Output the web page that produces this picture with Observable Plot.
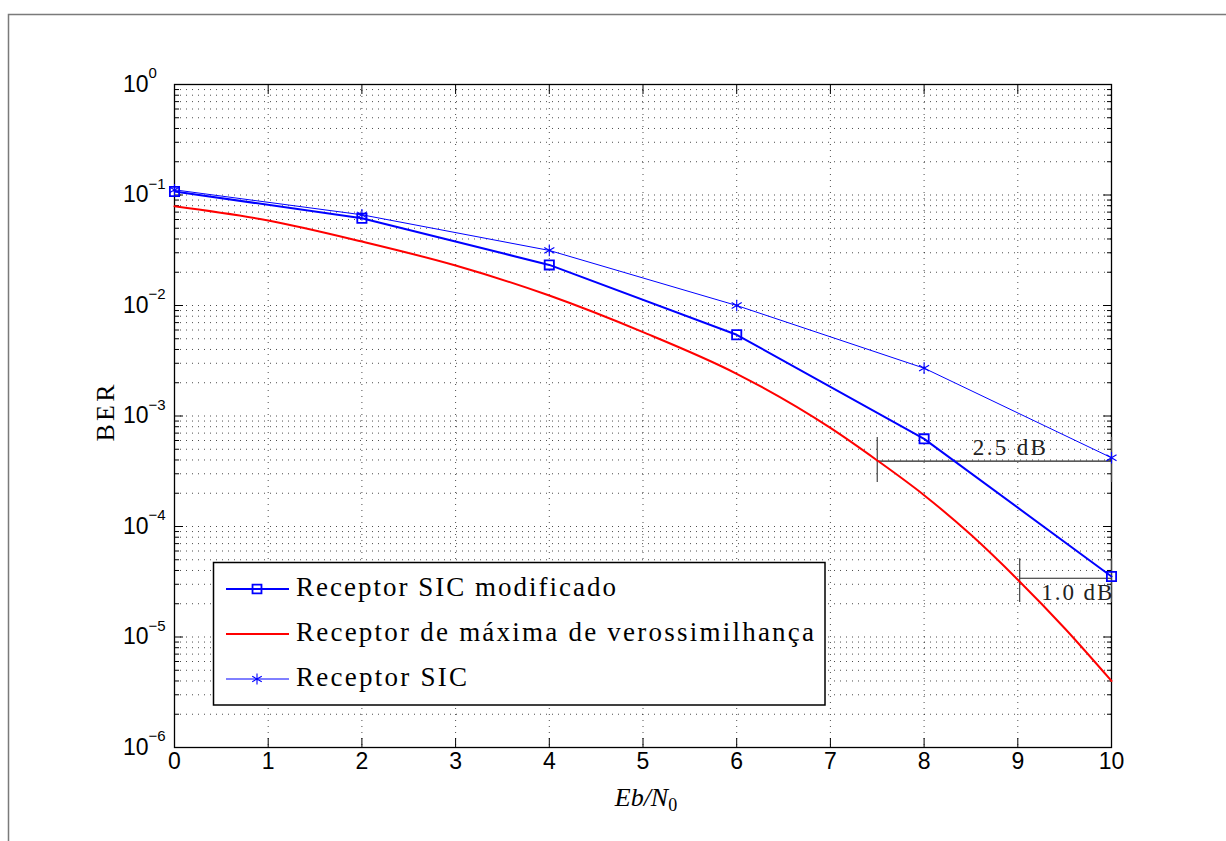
<!DOCTYPE html>
<html><head><meta charset="utf-8">
<script src="https://cdn.jsdelivr.net/npm/d3@7"></script>
<script src="https://cdn.jsdelivr.net/npm/@observablehq/plot@0.6"></script>
<style>
html,body{margin:0;padding:0;background:#fff;}
#chart{width:1226px;height:841px;overflow:hidden;position:relative;}
</style></head><body><div id="chart"></div>
<script>
// ---- data ----
const ebn0 = [0, 2, 4, 6, 8, 10];
const berSicMod = [0.1075, 0.0617, 0.0233, 0.00543, 0.000621, 0.0000353];
const berSic = [0.1114, 0.0662, 0.0315, 0.0100, 0.00271, 0.000419];
const ebn0ML = [0, 1, 2, 3, 4, 5, 6, 7, 7.5, 8, 8.5, 9, 9.5, 10];
const berML = [0.079, 0.0588, 0.0379, 0.0230, 0.0123, 0.00574, 0.00241, 0.00078, 0.000396, 0.000192, 0.000084, 0.000033, 0.0000120, 0.0000040];
const seriesNames = ["Receptor SIC modificado", "Receptor de máxima de verossimilhança", "Receptor SIC"];
const xTicks = [0, 1, 2, 3, 4, 5, 6, 7, 8, 9, 10];
const xTickLabels = ["0", "1", "2", "3", "4", "5", "6", "7", "8", "9", "10"];
const yDecades = [1e-6, 1e-5, 1e-4, 1e-3, 1e-2, 1e-1, 1];
const yExponents = ["−6", "−5", "−4", "−3", "−2", "−1", "0"];
const yMinorMantissas = [2, 3, 4, 5, 6, 7, 8, 9];
// annotations (dB gaps)
const annotLabels = ["2.5 dB", "1.0 dB"];
const annotX1 = [7.5, 9.02];
const annotX2 = [10, 10];
const annotY = [3.9e-4, 3.4e-5];
const annotTickLo = [2.5e-4, 2.05e-5];
const annotTickHi = [6.4e-4, 5.1e-5];
const annotLabelX = [8.91, 9.63];
const annotLabelY = [4.48e-4, 2.14e-5];

// ---- tables ----
const modData = ebn0.map((x, i) => ({x, y: berSicMod[i]}));
const sicData = ebn0.map((x, i) => ({x, y: berSic[i]}));
const mlData = ebn0ML.map((x, i) => ({x, y: berML[i]}));
const yMinor = [];
yDecades.slice(0, -1).forEach(d => yMinorMantissas.forEach(m => yMinor.push(m * d)));
const yGrid = [...yDecades, ...yMinor];
const annot = annotLabels.map((label, i) => ({label, x1: annotX1[i], x2: annotX2[i], y: annotY[i], lx: annotLabelX[i], ly: annotLabelY[i]}));
const annotTicks = [];
annot.forEach((a, i) => { annotTicks.push({x: a.x1, lo: annotTickLo[i], hi: annotTickHi[i]}); annotTicks.push({x: a.x2, lo: annotTickLo[i], hi: annotTickHi[i]}); });

const gridStyle = {stroke: "#000", strokeOpacity: 0.7, strokeWidth: 1, strokeDasharray: "1,5"};
const sans = "Liberation Sans, Arial, sans-serif";
const serif = "Liberation Serif, Times New Roman, serif";

const plot = Plot.plot({
  width: 1226, height: 841,
  marginLeft: 174, marginRight: 115, marginTop: 84, marginBottom: 94,
  style: {background: "white", fontFamily: sans, overflow: "visible"},
  x: {domain: [0, 10], label: null},
  y: {type: "log", domain: [1e-6, 1], label: null},
  marks: [
    Plot.gridX(xTicks, gridStyle),
    Plot.gridY(yGrid, gridStyle),
    Plot.axisX(xTicks, {anchor: "bottom", tickSize: -9, tickFormat: () => "", label: null, stroke: "#000"}),
    Plot.axisX(xTicks, {anchor: "top", tickSize: -9, tickFormat: () => "", label: null, stroke: "#000"}),
    Plot.axisY(yDecades, {anchor: "left", tickSize: -9, tickFormat: () => "", label: null, stroke: "#000"}),
    Plot.axisY(yDecades, {anchor: "right", tickSize: -9, tickFormat: () => "", label: null, stroke: "#000"}),
    Plot.axisY(yMinor, {anchor: "left", tickSize: -5, tickFormat: () => "", label: null, stroke: "#000"}),
    Plot.axisY(yMinor, {anchor: "right", tickSize: -5, tickFormat: () => "", label: null, stroke: "#000"}),
    Plot.frame({stroke: "#000", strokeWidth: 1.3}),
    Plot.text(xTicks, {x: d => d, frameAnchor: "bottom", dy: 21, text: (d, i) => xTickLabels[i], fontSize: 23, fill: "#000"}),
    Plot.text(yDecades, {y: d => d, frameAnchor: "left", dx: -26, textAnchor: "end", text: () => "10", fontSize: 23, fill: "#000"}),
    Plot.text(yDecades, {y: d => d, frameAnchor: "left", dx: -26, dy: -11, textAnchor: "start", text: (d, i) => yExponents[i], fontSize: 15, fill: "#000"}),
    // dB annotations
    Plot.ruleY(annot, {x1: "x1", x2: "x2", y: "y", stroke: "#222", strokeWidth: 1.2}),
    Plot.ruleX(annotTicks, {x: "x", y1: "lo", y2: "hi", stroke: "#444", strokeWidth: 1.2}),
    Plot.text(annot, {x: "lx", y: "ly", text: "label", lineAnchor: "bottom", fontFamily: serif, fontSize: 23, fill: "#222"}),
    // series
    Plot.line(mlData, {x: "x", y: "y", stroke: "#ff0000", strokeWidth: 2, curve: "monotone-x"}),
    Plot.line(sicData, {x: "x", y: "y", stroke: "#0000ff", strokeWidth: 1}),
    Plot.dot(sicData, {x: "x", y: "y", symbol: "asterisk", r: 5.5, stroke: "#0000ff", strokeWidth: 1.1}),
    Plot.line(modData, {x: "x", y: "y", stroke: "#0000ff", strokeWidth: 2}),
    Plot.dot(modData, {x: "x", y: "y", symbol: "square", r: 5.2, stroke: "#0000ff", strokeWidth: 1.8, fill: "none"})
  ]
});
document.getElementById("chart").appendChild(plot);

const svg = d3.select(plot);
// annotation text widths
const annotWidths = [73, 71];
svg.selectAll("text").each(function() {
  const k = annotLabels.indexOf(this.textContent);
  if (k >= 0) d3.select(this).attr("textLength", annotWidths[k]).attr("lengthAdjust", "spacing");
});

// outer figure frame
svg.insert("rect", ":first-child").attr("x", 8.5).attr("y", 14.5).attr("width", 1400).attr("height", 1000)
  .attr("fill", "none").attr("stroke", "#7a7a7a").attr("stroke-width", 1.5);

// axis labels
svg.append("text").attr("transform", "translate(114,413) rotate(-90)").attr("text-anchor", "middle")
  .attr("font-family", serif).attr("font-size", 26).attr("fill", "#000")
  .attr("textLength", 57).attr("lengthAdjust", "spacing").text("BER");
const xl = svg.append("text").attr("x", 646).attr("y", 806).attr("text-anchor", "middle")
  .attr("font-family", serif).attr("font-size", 26).attr("fill", "#000");
xl.append("tspan").attr("font-style", "italic").text("Eb/N");
xl.append("tspan").attr("font-size", 18).attr("dy", 5).text("0");

// legend
const lg = svg.append("g").attr("text-anchor", "start");
lg.append("rect").attr("x", 213.5).attr("y", 562.5).attr("width", 611.5).attr("height", 142.5)
  .attr("fill", "white").attr("stroke", "#000").attr("stroke-width", 1.5);
const legendStyle = [
  {color: "#0000ff", width: 2, symbol: d3.symbolSquare, size: 80, sw: 1.8},
  {color: "#ff0000", width: 2, symbol: null},
  {color: "#0000ff", width: 1, symbol: d3.symbolAsterisk, size: 85, sw: 1.1}
];
const rowY = [589, 634, 679];
const textW = [320, 518, 171];
seriesNames.forEach((name, i) => {
  const s = legendStyle[i];
  lg.append("line").attr("x1", 226).attr("x2", 289).attr("y1", rowY[i]).attr("y2", rowY[i])
    .attr("stroke", s.color).attr("stroke-width", s.width);
  if (s.symbol) {
    lg.append("path").attr("transform", `translate(257,${rowY[i]})`)
      .attr("d", d3.symbol(s.symbol, s.size)()).attr("fill", "none")
      .attr("stroke", s.color).attr("stroke-width", s.sw);
  }
  lg.append("text").attr("x", 296).attr("y", rowY[i] + 7).attr("text-anchor", "start").attr("font-family", serif)
    .attr("font-size", 27).attr("fill", "#000").attr("textLength", textW[i]).attr("lengthAdjust", "spacing")
    .text(name);
});
</script>
</body></html>
